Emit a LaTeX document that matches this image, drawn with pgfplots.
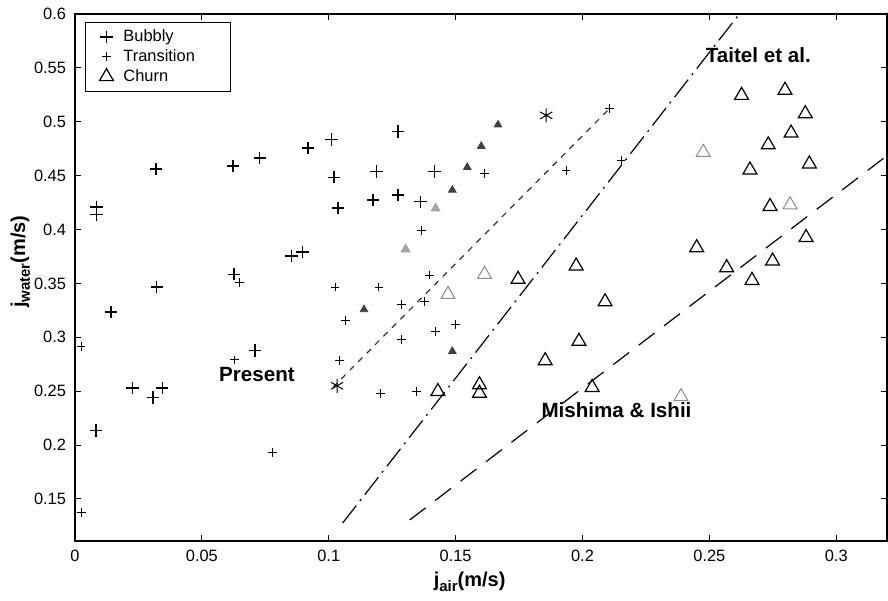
\documentclass[border=0pt]{standalone}
\usepackage{fontspec}
\setmainfont{Liberation Sans}
\usepackage{pgfplots}
\pgfplotsset{compat=1.18}

% flow regime map: superficial velocities of air and water
\pgfplotstableread{
x y
0.0085 0.421
0.0085 0.414
0.0319 0.456
0.0623 0.459
0.0728 0.4665
0.0853 0.3755
0.0896 0.3792
0.0322 0.3466
0.0627 0.3585
0.0142 0.3236
0.0709 0.2877
0.0227 0.2528
0.0308 0.2442
0.0344 0.2528
0.0083 0.2134
0.0919 0.4755
0.1011 0.4836
0.1020 0.4485
0.1037 0.4200
0.1273 0.4910
0.1188 0.4537
0.1417 0.4537
0.1175 0.4274
0.1273 0.4320
0.1361 0.4258
}\bubbly

\pgfplotstableread{
x y
0.0647 0.3506
0.0024 0.2914
0.0630 0.2790
0.0778 0.1932
0.0026 0.1373
0.1025 0.3466
0.1365 0.3988
0.1198 0.3466
0.1398 0.3578
0.1286 0.3305
0.1378 0.3336
0.1066 0.3156
0.1500 0.3119
0.1421 0.3056
0.1286 0.2979
0.1043 0.2783
0.1205 0.2481
0.1345 0.2497
0.2152 0.4640
0.1935 0.4547
0.2106 0.5122
0.1614 0.4522
}\transition

\pgfplotstableread{
x y
0.1430 0.2497
0.1594 0.2560
0.1594 0.2481
0.1746 0.3538
0.1975 0.3662
0.2089 0.3330
0.1986 0.2963
0.1853 0.2783
0.2038 0.2535
0.2627 0.5245
0.2798 0.5292
0.2878 0.5075
0.2822 0.4895
0.2732 0.4786
0.2894 0.4609
0.2660 0.4553
0.2739 0.4214
0.2881 0.3926
0.2450 0.3832
0.2749 0.3708
0.2568 0.3646
0.2668 0.3528
}\churn

% lighter churn points
\pgfplotstableread{
x y
0.1470 0.3398
0.1614 0.3585
0.2476 0.4717
0.2818 0.4230
0.2388 0.2450
}\churnlight

% hatched points in the transition band
\pgfplotstableread{
x y
0.1667 0.4972
0.1601 0.4773
0.1546 0.4578
0.1487 0.4367
0.1139 0.3258
0.1487 0.2870
}\hatched

\pgfplotstableread{
x y
0.1303 0.3817
0.1421 0.4196
}\hatchedlight

\pgfplotstableread{
x y
0.1033 0.2550
0.1857 0.5059
}\stars

\newcommand{\legtext}[1]{\makebox[45pt][l]{#1}}

\begin{document}
\begin{tikzpicture}
\begin{axis}[
  name=ax,
  scale only axis, width=406pt, height=263.5pt,
  xmin=0, xmax=0.32, ymin=0.111, ymax=0.6,
  xtick={0,0.05,0.1,0.15,0.2,0.25,0.3},
  xticklabels={0,0.05,0.1,0.15,0.2,0.25,0.3},
  ytick={0.15,0.2,0.25,0.3,0.35,0.4,0.45,0.5,0.55,0.6},
  yticklabels={0.15,0.2,0.25,0.3,0.35,0.4,0.45,0.5,0.55,0.6},
  tick align=inside, major tick length=3pt,
  tick style={black, line width=0.5pt},
  axis line style={black, line width=0.6pt},
  tick label style={font=\fontsize{8.2}{9}\selectfont},
  xticklabel style={yshift=-1pt},
  yticklabel style={xshift=-1pt},
  xlabel={\textbf{j\raisebox{-0.45ex}{\fontsize{7.5}{8}\selectfont air}(m/s)}},
  ylabel={\textbf{j\raisebox{-0.45ex}{\fontsize{7.5}{8}\selectfont water}(m/s)}},
  label style={font=\fontsize{10}{11}\selectfont},
  xlabel style={at={(axis description cs:0.486,0)}, anchor=north, yshift=-12pt},
  ylabel style={at={(axis description cs:0,0.53)}, anchor=south, yshift=19pt},
  clip=false,
  legend image code/.code={%
    \path[draw=none, fill=none] (-4pt,-0.1pt) rectangle (6.5pt,0.1pt);
    \draw[#1, only marks] plot coordinates {(0pt,0pt)};},
  legend style={at={(axis description cs:0.0123,0.985)}, anchor=north west,
    draw=black, line width=0.5pt, font=\fontsize{8.2}{9}\selectfont,
    row sep=-1.5pt, inner xsep=6.5pt, inner ysep=1.5pt,
    /tikz/every even column/.append style={column sep=4pt}},
  legend cell align=left,
]
% transition boundaries
\addplot[black, line width=0.6pt, dash pattern=on 11pt off 3pt on 1pt off 3pt, forget plot]
  coordinates {(0.1055,0.1277) (0.2618,0.6)};
\addplot[black, line width=0.6pt, dash pattern=on 10pt off 6pt, forget plot]
  coordinates {(0.1319,0.1305) (0.3197,0.4680)};
\addplot[black!80, line width=0.6pt, dash pattern=on 3pt off 3pt, forget plot]
  coordinates {(0.1016,0.2535) (0.2106,0.5122)};

\addplot[only marks, mark=triangle*, mark size=2.6pt, black!35, forget plot]
  table {\hatchedlight};
\addplot[only marks, mark=triangle*, mark size=2.2pt, black!75, forget plot]
  table {\hatched};
\addplot[only marks, mark=triangle, mark size=4pt, black!45, line width=0.5pt, forget plot]
  table {\churnlight};
\addplot[only marks, mark=asterisk, mark size=3.5pt, black, line width=0.5pt, forget plot]
  table {\stars};

\addplot[only marks, mark=+, mark size=3.1pt, black, line width=0.7pt] table {\bubbly};
\addlegendentry{\legtext{Bubbly}}
\addplot[only marks, mark=+, mark size=2.2pt, black, line width=0.5pt] table {\transition};
\addlegendentry{\legtext{Transition}}
\addplot[only marks, mark=triangle, mark size=4pt, black, line width=0.6pt] table {\churn};
\addlegendentry{\legtext{Churn}}

\node[font=\bfseries\fontsize{10.3}{12}\selectfont] at (axis cs:0.2693,0.562) {Taitel et al.};
\node[font=\bfseries\fontsize{10.3}{12}\selectfont] at (axis cs:0.0717,0.2655) {Present};
\node[font=\bfseries\fontsize{10.3}{12}\selectfont] at (axis cs:0.2134,0.232) {Mishima \& Ishii};
\end{axis}
\pgfresetboundingbox
\path[use as bounding box] ([shift={(-37.5pt,-29.5pt)}]ax.south west) rectangle ([shift={(0.5pt,7pt)}]ax.north east);
\end{tikzpicture}
\end{document}
